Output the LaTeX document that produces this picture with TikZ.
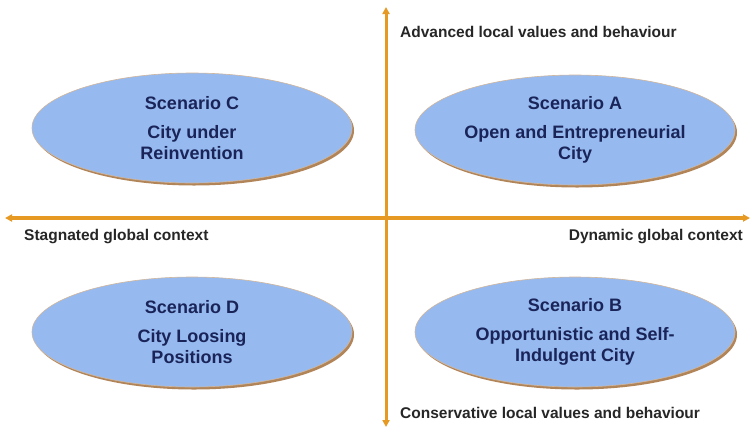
\documentclass[tikz,border=0pt]{standalone}
\usepackage{fontspec}
\setmainfont{Liberation Sans}
\usetikzlibrary{shapes.geometric,shadows,arrows.meta}

\definecolor{scenblue}{RGB}{150,186,240}
\definecolor{scentext}{RGB}{26,36,88}
\definecolor{axisgold}{RGB}{230,154,36}
\definecolor{rimbrown}{RGB}{170,120,72}

\begin{document}
\begin{tikzpicture}[x=1pt,y=-1pt]

	\tikzset{scenario/.style = {shape=ellipse,fill=scenblue,draw=rimbrown!55,line width=0.6pt,minimum width=320pt,minimum height=110pt,inner sep=0pt,align=center,text=scentext,font=\bfseries\fontsize{18}{21}\selectfont,drop shadow={shadow xshift=2pt,shadow yshift=-2.5pt,fill=rimbrown,opacity=0.9}}}
	\tikzset{axis/.style = {<->,> = {Triangle[length=7pt,width=7pt]},draw=axisgold}}
	\tikzset{axislabel/.style = {text=black!85,font=\bfseries\fontsize{15.5}{18}\selectfont,inner sep=0pt}}

	\useasboundingbox[fill=white] (0,0) rectangle (751,429);

	% axes
	\coordinate (west) at (5,218);
	\coordinate (east) at (750,218);
	\coordinate (north) at (386,7);
	\coordinate (south) at (386,427);

	\draw[axis,line width=4pt] (west) -- (east);
	\draw[axis,line width=3pt] (south) -- (north);

	\node[axislabel,anchor=west] (advanced) at (400,32) {Advanced local values and behaviour};
	\node[axislabel,anchor=west] (conservative) at (400,413) {Conservative local values and behaviour};
	\node[axislabel,anchor=west] (stagnated) at (24,237) {Stagnated global context};
	\node[axislabel,anchor=east] (dynamic) at (743,237) {Dynamic global context};

	% scenarios
	\node[scenario] (scenC) at (192,128) {Scenario C\\[8pt]City under\\Reinvention};
	\node[scenario] (scenA) at (575,130) {Scenario A\\[8pt]Open and Entrepreneurial\\City};
	\node[scenario] (scenD) at (192,332) {Scenario D\\[8pt]City Loosing\\Positions};
	\node[scenario] (scenB) at (575,332) {Scenario B\\[8pt]Opportunistic and Self-\\Indulgent City};

\end{tikzpicture}
\end{document}
